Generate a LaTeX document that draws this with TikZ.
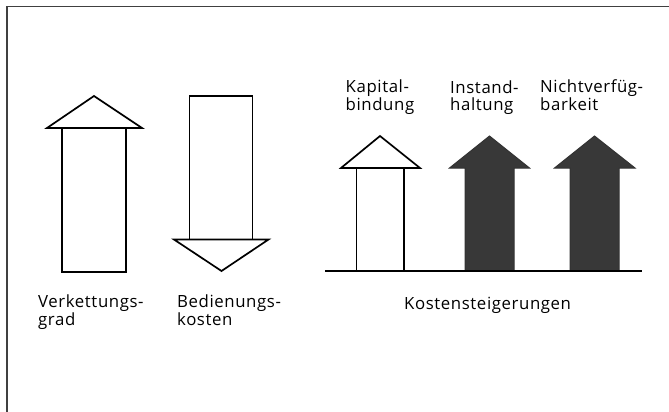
\documentclass[tikz,border=0pt]{standalone}
\usepackage{fontspec}
\setmainfont{Open Sans}[LetterSpace=3.5]
\usetikzlibrary{positioning}

\tikzset{
    hollow/.style={draw=black, line width=1.7pt, fill=white, line join=miter},
    solid arrow/.style={draw=black!80, line width=1pt, fill=black!78, line join=miter},
    label/.style={anchor=base west, inner sep=0pt, align=left,
        font=\fontsize{16.8}{16.5}\selectfont}
}

\begin{document}
\begin{tikzpicture}[x=1pt, y=-1pt]
    \useasboundingbox (0,0) rectangle (669,412);

    % frame (left and top edges only)
    \draw [line width=1.6pt, black!75] (7,412) -- (7,6.5) -- (669,6.5);

    % Verkettungsgrad: up arrow
    \draw [hollow] (62,128) rectangle (126,272);
    \draw [hollow] (47,128) -- (94,96) -- (142,128) -- cycle;

    % Bedienungskosten: down arrow
    \draw [hollow] (189.5,96) rectangle (252.5,239.5);
    \draw [hollow] (174,239.5) -- (221.5,271) -- (268.5,239.5) -- cycle;

    % Kostensteigerungen
    \coordinate (BaseL) at (325,271);
    \coordinate (BaseR) at (642,271);

    \draw [hollow] (356.5,271) -- (356.5,168) -- (404,168) -- (404,271);
    \draw [hollow] (341,168) -- (380,136) -- (420,168) -- cycle;

    \draw [solid arrow] (465,271) -- (465,168) -- (449.5,168) -- (489.5,136)
        -- (529.5,168) -- (514,168) -- (514,271) -- cycle;
    \draw [solid arrow] (570,271) -- (570,168) -- (554.5,168) -- (594.5,136)
        -- (635,168) -- (619,168) -- (619,271) -- cycle;

    \draw [line width=1.7pt] (BaseL) -- (BaseR);

    % labels (anchored on the baseline of the last line)
    \node [label] (Kap) at (345.5,110) {Kapital-\\bindung};
    \node [label] (Inst) at (450,110) {Instand-\\haltung};
    \node [label] (Nicht) at (540,110) {Nichtverfüg-\\barkeit};

    \node [label] (Verk) at (38,325) {Verkettungs-\\grad};
    \node [label] (Bed) at (177,325) {Bedienungs-\\kosten};
    \node [label] (Kost) at (404,309) {Kostensteigerungen};
\end{tikzpicture}
\end{document}
